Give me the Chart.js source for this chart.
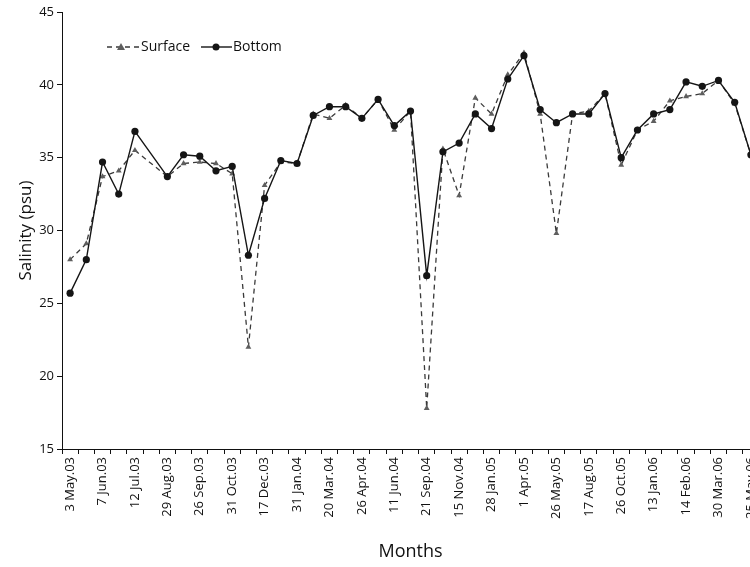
<!DOCTYPE html>
<html>
<head>
<meta charset="utf-8">
<script src="https://cdn.jsdelivr.net/npm/chart.js@4/dist/chart.umd.min.js"></script>
<style>
  html, body { margin: 0; padding: 0; background: #fff; overflow: hidden; }
  #wrap { width: 750px; height: 567px; overflow: hidden; }
  canvas { display: block; }
</style>
</head>
<body>
<div id="wrap"><canvas id="c" width="763" height="567"></canvas></div>
<script>
// Sampling dates shown on the axis (every second sampling slot is labelled)
const tickLabels = ['3 May.03', '7 Jun.03', '12 Jul.03', '29 Aug.03', '26 Sep.03', '31 Oct.03',
  '17 Dec.03', '31 Jan.04', '20 Mar.04', '26 Apr.04', '11 Jun.04', '21 Sep.04', '15 Nov.04',
  '28 Jan.05', '1 Apr.05', '26 May.05', '17 Aug.05', '26 Oct.05', '13 Jan.06', '14 Feb.06',
  '30 Mar.06', '25 May.06'];

// Salinity (psu) per sampling slot; null = no sample taken
const surface = [28.0, 29.1, 33.7, 34.1, 35.5, null, 33.7, 34.6, 34.7, 34.6, 33.9, 22.0, 33.1,
  34.7, 34.6, 38.0, 37.7, 38.6, 37.7, 39.0, 36.9, 38.2, 17.8, 35.6, 32.4, 39.1, 38.0, 40.7,
  42.2, 38.0, 29.8, 38.0, 38.2, 39.4, 34.5, 36.9, 37.5, 38.9, 39.2, 39.4, 40.3, 38.7, 35.2];
const bottom = [25.7, 28.0, 34.7, 32.5, 36.8, null, 33.7, 35.2, 35.1, 34.1, 34.4, 28.3, 32.2,
  34.8, 34.6, 37.9, 38.5, 38.5, 37.7, 39.0, 37.2, 38.2, 26.9, 35.4, 36.0, 38.0, 37.0, 40.4,
  42.0, 38.3, 37.4, 38.0, 38.0, 39.4, 35.0, 36.9, 38.0, 38.3, 40.2, 39.9, 40.3, 38.8, 35.2];

const yTicks = [15, 20, 25, 30, 35, 40, 45];

// One category per sampling slot; odd slots carry no label
const categories = [];
for (let i = 0; i < surface.length; i++) {
  categories.push(i % 2 === 0 ? tickLabels[i / 2] : '');
}

const FONT = '"Open Sans", "Noto Sans", sans-serif';
const SURF_LINE = '#3a3a3a', SURF_PT = '#5e5e5e', BOT = '#151515';

// Legend drawn inside the plot area: dashed line + triangle, solid line + dot
const insideLegend = {
  id: 'insideLegend',
  afterDatasetsDraw(chart) {
    const ctx = chart.ctx;
    const y = 47;
    ctx.save();
    ctx.font = '14px ' + FONT;
    ctx.textBaseline = 'middle';
    ctx.fillStyle = '#111';
    // Surface
    ctx.strokeStyle = SURF_LINE;
    ctx.lineWidth = 1.3;
    ctx.setLineDash([5, 4]);
    ctx.beginPath(); ctx.moveTo(107, y); ctx.lineTo(140, y); ctx.stroke();
    ctx.setLineDash([]);
    ctx.fillStyle = SURF_PT;
    ctx.beginPath(); ctx.moveTo(121, y - 4); ctx.lineTo(125, y + 3); ctx.lineTo(117, y + 3); ctx.closePath(); ctx.fill();
    ctx.fillStyle = '#111';
    ctx.fillText('Surface', 141, y);
    // Bottom
    ctx.strokeStyle = BOT;
    ctx.lineWidth = 1.4;
    ctx.beginPath(); ctx.moveTo(201, y); ctx.lineTo(232, y); ctx.stroke();
    ctx.fillStyle = BOT;
    ctx.beginPath(); ctx.arc(216, y, 3.5, 0, Math.PI * 2); ctx.fill();
    ctx.fillStyle = '#111';
    ctx.fillText('Bottom', 233, y);
    ctx.restore();
  }
};

new Chart(document.getElementById('c'), {
  type: 'line',
  data: {
    labels: categories,
    datasets: [
      {
        label: 'Bottom',
        data: bottom,
        borderColor: BOT,
        borderWidth: 1.4,
        pointStyle: 'circle',
        pointRadius: 3.6,
        pointBackgroundColor: BOT,
        pointBorderColor: BOT,
        pointBorderWidth: 0,
        spanGaps: true,
        tension: 0,
        fill: false,
        clip: false
      },
      {
        label: 'Surface',
        data: surface,
        borderColor: SURF_LINE,
        borderWidth: 1.3,
        borderDash: [5, 4],
        pointStyle: 'triangle',
        pointRadius: 3.4,
        pointBackgroundColor: SURF_PT,
        pointBorderColor: SURF_PT,
        pointBorderWidth: 0,
        spanGaps: true,
        tension: 0,
        fill: false,
        clip: false
      }
    ]
  },
  options: {
    responsive: false,
    animation: false,
    devicePixelRatio: 1,
    layout: { padding: { top: 12, right: 0, bottom: 0, left: 0 } },
    plugins: { legend: { display: false }, tooltip: { enabled: false } },
    scales: {
      x: {
        type: 'category',
        offset: true,
        grid: { offset: true, drawOnChartArea: false, drawTicks: true, tickLength: 5, color: '#111', lineWidth: 1 },
        border: { display: true, color: '#111', width: 1 },
        ticks: {
          autoSkip: false,
          maxRotation: 90,
          minRotation: 90,
          padding: 3,
          color: '#111',
          font: { family: FONT, size: 13 }
        },
        title: {
          display: true,
          text: 'Months',
          color: '#111',
          font: { family: FONT, size: 18 },
          padding: { top: 0, bottom: 4 }
        },
        afterFit(s) { s.paddingLeft = 0; s.paddingRight = 0; s.height = 118; }
      },
      y: {
        min: 15,
        max: 45,
        afterBuildTicks(s) { s.ticks = yTicks.map(v => ({ value: v })); },
        grid: { drawOnChartArea: false, drawTicks: true, tickLength: 5, color: '#111', lineWidth: 1 },
        border: { display: true, color: '#111', width: 1 },
        ticks: {
          padding: 3,
          color: '#111',
          font: { family: FONT, size: 13 }
        },
        title: {
          display: true,
          text: 'Salinity (psu)',
          color: '#111',
          font: { family: FONT, size: 17 },
          padding: { top: 16, bottom: 0 }
        },
        afterFit(s) { s.paddingTop = 0; s.paddingBottom = 0; s.width = 62; }
      }
    }
  },
  plugins: [insideLegend]
});
</script>
</body>
</html>
